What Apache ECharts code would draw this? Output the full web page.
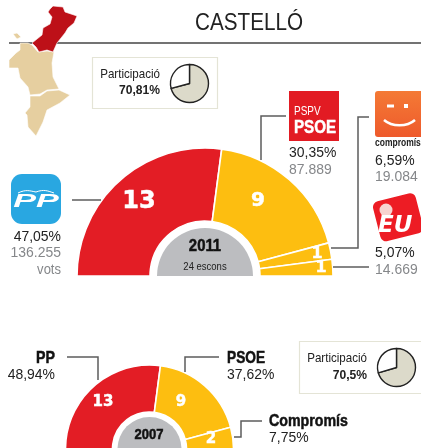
<!DOCTYPE html>
<html>
<head>
<meta charset="utf-8">
<style>html,body{margin:0;padding:0;background:#fff}#main{width:421px;height:448px}</style>
<script src="https://cdn.jsdelivr.net/npm/echarts@6/dist/echarts.min.js"></script>
</head>
<body>
<div id="main"></div>
<script>
var title = 'CASTELLÓ';
// escons
var parties2011 = ['PP', 'PSOE', 'Compromís', 'EU'];
var seats2011 = [13, 9, 1, 1];
var parties2007 = ['PP', 'PSOE', 'Compromís'];
var seats2007 = [13, 9, 2];
var seatColors = ['#e31d25', '#fdbe10', '#fdbe10', '#fdbe10'];
var pct2011 = ['47,05%', '30,35%', '6,59%', '5,07%'];
var votes2011 = ['136.255', '87.889', '19.084', '14.669'];
var pct2007 = ['48,94%', '37,62%', '7,75%'];
// participació
var turnout = [70.81, 70.5];
var turnoutLabels = ['70,81%', '70,5%'];

var sans = 'Liberation Sans';
var ink = '#222';
var grey = '#85878a';
var lineGrey = '#5c5c5c';

function arc(center, radius, seats) {
	var total = seats.reduce(function(a, b) { return a + b; }, 0);
	var data = seats.map(function(v, i) {
		return {
			value: v,
			itemStyle: { color: seatColors[i], borderColor: '#fff', borderWidth: 1.6 }
		};
	});
	// mitat inferior buida
	data.push({ value: total, itemStyle: { color: 'transparent', borderWidth: 0 } });
	return {
		type: 'pie', center: center, radius: radius, startAngle: 180, clockwise: true,
		silent: true, animation: false, label: { show: false }, labelLine: { show: false },
		data: data
	};
}

function hub(center, r) {
	return {
		type: 'pie', center: center, radius: [0, r], startAngle: 180, silent: true, animation: false,
		label: { show: false }, labelLine: { show: false },
		data: [
			{ value: 1, itemStyle: { color: '#bcbdc0' } },
			{ value: 1, itemStyle: { color: 'transparent' } }
		]
	};
}

function turnoutPie(center, value) {
	return {
		type: 'pie', center: center, radius: [0, 19], startAngle: 90, silent: true, animation: false,
		label: { show: false }, labelLine: { show: false },
		itemStyle: { borderColor: '#222', borderWidth: 1.4 },
		data: [
			{ value: value, itemStyle: { color: '#dcdaca' } },
			{ value: 100 - value, itemStyle: { color: '#fff' } }
		]
	};
}

function txt(x, y, text, size, opts) {
	opts = opts || {};
	var fill = opts.color || ink;
	return {
		type: 'text', x: x, y: y, silent: true, z: 10,
		scaleX: opts.sx || 0.93,
		style: {
			text: text, fontSize: size, fontFamily: opts.font || sans, fontWeight: opts.bold ? 'bold' : 'normal',
			fontStyle: opts.italic ? 'italic' : 'normal',
			stroke: opts.heavy ? fill : null, lineWidth: opts.heavy ? 0.5 : 0,
			fill: fill, align: opts.align || 'left', verticalAlign: 'middle'
		}
	};
}

// xifra d'escons damunt del sector
function seat(x, y, value, size) {
	return txt(x, y, String(value), size, { font: 'DejaVu Sans', bold: true, heavy: true, color: '#fff', align: 'center', sx: 1 });
}

function leader(points) {
	return {
		type: 'polyline', silent: true, z: 5,
		shape: { points: points },
		style: { stroke: lineGrey, lineWidth: 1.5, fill: null }
	};
}

function poly(points, fill) {
	return {
		type: 'polygon', silent: true, z: 2,
		shape: { points: points },
		style: { fill: fill, stroke: '#fff', lineWidth: 0.6 }
	};
}

function box(x, y, w, h) {
	return {
		type: 'rect', silent: true, z: 0,
		shape: { x: x, y: y, width: w, height: h },
		style: { fill: '#fff', stroke: '#e4e4d6', lineWidth: 1.2 }
	};
}

// mapa (il·lustració)
var mapCastello = [[53, 6], [63, 7], [65, 12], [77, 16], [74, 23], [68, 28], [65, 33], [57, 43], [53, 52], [47, 50], [39, 52], [36, 47], [32, 43], [42, 35], [43, 28], [50, 24], [52, 17], [48, 12], [50, 9]];
var mapValencia = [[20, 43], [28, 43], [32, 45], [38, 52], [47, 51], [54, 52], [52, 63], [53, 77], [59, 89], [47, 90], [40, 94], [30, 95], [28, 87], [20, 78], [18, 68], [9, 68], [9, 60], [16, 53], [20, 50]];
var mapEnclave = [[13, 34], [17, 33], [21, 37], [17, 39]];
var mapAlacant = [[30, 96], [40, 96], [47, 91], [59, 90], [70, 95], [60, 103], [47, 110], [43, 122], [36, 136], [28, 127], [27, 115], [25, 113], [30, 107]];

var graphic = [
	// títol
	txt(249, 24, title, 23.5, { sx: 0.88, align: 'center' }),
	{ type: 'line', silent: true, z: 1, shape: { x1: 9, y1: 43, x2: 421, y2: 43 }, style: { stroke: '#444', lineWidth: 1.3 } },
	poly(mapValencia, '#e6cfa0'),
	poly(mapEnclave, '#e6cfa0'),
	poly(mapAlacant, '#e6cfa0'),
	poly(mapCastello, '#bd1018'),

	box(92.5, 57.5, 125, 51),
	txt(160, 74, 'Participació', 13, { align: 'right', sx: 0.89 }),
	txt(160, 90, turnoutLabels[0], 13, { align: 'right', bold: true }),
	box(299.5, 341.5, 130, 52),
	txt(367, 358, 'Participació', 13, { align: 'right', sx: 0.89 }),
	txt(367, 375, turnoutLabels[1], 13, { align: 'right', bold: true }),

	// línies
	leader([[72, 200], [101, 200]]),
	leader([[286, 116], [261, 116], [261, 160]]),
	leader([[369, 117], [358, 117], [358, 248], [331, 248]]),
	leader([[333, 267], [369, 267]]),
	leader([[67, 357], [98, 357], [98, 380]]),
	leader([[219, 357], [185, 357], [185, 372]]),
	leader([[262, 421], [241, 421], [241, 437], [234, 437]]),

	// logo PP
	{ type: 'rect', silent: true, z: 3, shape: { x: 11, y: 174, width: 50, height: 50, r: 11 }, style: { fill: '#29a7e1' } },
	txt(36, 202, parties2011[0], 18, { bold: true, italic: true, color: '#fff', align: 'center', sx: 1.9 }),
	{ type: 'bezierCurve', silent: true, z: 11, shape: { x1: 18, y1: 193, cpx1: 26, cpy1: 189, x2: 36, y2: 192, cpx2: 30, cpy2: 191 }, style: { stroke: '#fff', lineWidth: 1, fill: null } },
	{ type: 'bezierCurve', silent: true, z: 11, shape: { x1: 36, y1: 192, cpx1: 44, cpy1: 189, x2: 54, y2: 193, cpx2: 48, cpy2: 191 }, style: { stroke: '#fff', lineWidth: 1, fill: null } },

	// logo PSOE
	{ type: 'rect', silent: true, z: 3, shape: { x: 289, y: 91, width: 50, height: 50 }, style: { fill: '#e21b23' } },
	txt(294, 112, 'PSPV', 12.5, { color: '#fff', sx: 0.8 }),
	txt(294, 128, parties2011[1], 18.5, { bold: true, heavy: true, color: '#fff', sx: 0.82 }),

	// logo Compromís
	{ type: 'rect', silent: true, z: 3, shape: { x: 375, y: 91, width: 60, height: 46, r: 3 }, style: { fill: new echarts.graphic.LinearGradient(0, 0, 0, 1, [{ offset: 0, color: '#f47a35' }, { offset: 1, color: '#ee5a2c' }]) } },
	{ type: 'rect', silent: true, z: 4, shape: { x: 387, y: 104.5, width: 7, height: 3 }, style: { fill: '#fff' } },
	{ type: 'rect', silent: true, z: 4, shape: { x: 404, y: 104, width: 4, height: 4 }, style: { fill: '#fff' } },
	{ type: 'bezierCurve', silent: true, z: 4, shape: { x1: 384, y1: 120, cpx1: 392, cpy1: 127, x2: 415, y2: 120, cpx2: 407, cpy2: 127 }, style: { stroke: '#fff', lineWidth: 2.5, fill: null } },
	txt(375, 143, 'compromís', 10, { bold: true, color: '#222', sx: 0.85 }),

	// logo EU
	{ type: 'rect', silent: true, z: 3, rotation: 0.25, originX: 397, originY: 217, shape: { x: 376, y: 197, width: 44, height: 41, r: 6 }, style: { fill: '#ed1c24' } },
	{ type: 'circle', silent: true, z: 4, shape: { cx: 386, cy: 210, r: 6.5 }, style: { fill: '#f7d4d0' } },
	txt(378, 226, parties2011[3], 23, { font: 'DejaVu Sans', bold: true, italic: true, color: '#fff', sx: 1 }),

	// xifres 2011
	txt(61, 237, pct2011[0], 15, { align: 'right' }),
	txt(61, 253, votes2011[0], 15, { align: 'right', color: grey }),
	txt(61, 270, 'vots', 14, { align: 'right', color: grey }),
	txt(289, 153, pct2011[1], 15),
	txt(289, 170, votes2011[1], 15, { color: grey }),
	txt(375, 161, pct2011[2], 15),
	txt(375, 177, votes2011[2], 15, { color: grey }),
	txt(375, 253, pct2011[3], 15),
	txt(375, 270, votes2011[3], 15, { color: grey }),

	seat(139, 202, seats2011[0], 24),
	seat(258, 201, seats2011[1], 20),
	seat(317, 254, seats2011[2], 16),
	seat(321, 268, seats2011[3], 16),
	txt(205, 247, '2011', 16, { bold: true, heavy: true, color: '#111', align: 'center' }),
	txt(205, 267, '24 escons', 10, { align: 'center', sx: 0.95 }),

	// xifres 2007
	txt(55, 358, parties2007[0], 16.5, { bold: true, heavy: true, color: '#111', align: 'right', sx: 0.86 }),
	txt(55, 375, pct2007[0], 15, { align: 'right' }),
	txt(227, 358, parties2007[1], 16.5, { bold: true, heavy: true, color: '#111', sx: 0.83 }),
	txt(227, 375, pct2007[1], 15),
	txt(269, 421, parties2007[2], 16.5, { bold: true, heavy: true, color: '#111', sx: 0.86 }),
	txt(269, 438, pct2007[2], 15),
	seat(103, 402, seats2007[0], 15),
	seat(181, 402, seats2007[1], 15),
	seat(211, 439, seats2007[2], 15),
	txt(149, 435, '2007', 14, { bold: true, heavy: true, color: '#111', align: 'center' })
];

var chart = echarts.init(document.getElementById('main'), null, { renderer: 'canvas' });
chart.setOption({
	animation: false,
	backgroundColor: '#fff',
	graphic: graphic,
	series: [
		arc([205, 276], [55, 128], seats2011),
		hub([205, 276], 48),
		arc([149.5, 449], [37, 84], seats2007),
		hub([149.5, 449], 32),
		turnoutPie([189.5, 83.5], turnout[0]),
		turnoutPie([396.5, 367.5], turnout[1])
	]
});
</script>
</body>
</html>
